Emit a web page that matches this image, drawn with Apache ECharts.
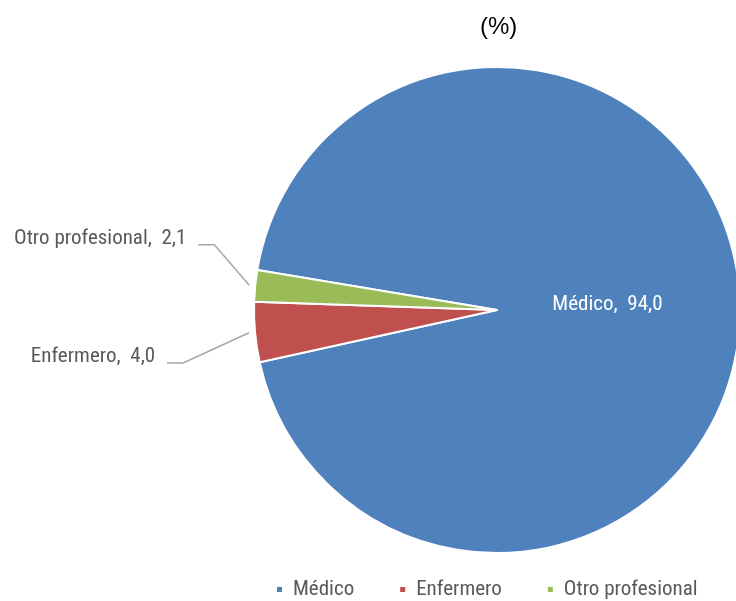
<!DOCTYPE html>
<html><head><meta charset="utf-8">
<script src="https://cdn.jsdelivr.net/npm/echarts@6/dist/echarts.min.js"></script>
<style>html,body{margin:0;padding:0;background:#fff}#c{width:736px;height:601px}</style>
</head><body><div id="c"></div>
<script>
const categories = ['Médico', 'Enfermero', 'Otro profesional'];
const values = [94.0, 4.0, 2.1];
const colors = ['#4F81BD', '#C0504D', '#9BBB59'];
const titleText = '(%)';

const FONT = '"Liberation Sans Narrow", "Roboto Condensed", "DejaVu Sans Condensed", sans-serif';
const fmt = v => v.toFixed(1).replace('.', ',');

const chart = echarts.init(document.getElementById('c'), null, {renderer: 'canvas'});
const labelOffsets = [[-14, -2], [-49, 22], [-18, -44]];

chart.setOption({
  animation: false,
  backgroundColor: '#fff',
  title: {
    text: titleText, left: 475, top: 10,
    textStyle: {fontFamily: '"Liberation Sans", Arial, sans-serif', fontSize: 24, fontWeight: 'normal', color: '#000'}
  },
  legend: {
    data: categories, top: 574, left: 270, icon: 'rect', itemWidth: 7, itemHeight: 7, itemGap: 44,
    textStyle: {fontFamily: FONT, fontSize: 21, color: '#595959', padding: [0, 0, 0, 5]}
  },
  series: [{
    type: 'pie',
    center: [497, 310],
    radius: 243,
    startAngle: 170.5,
    clockwise: true,
    avoidLabelOverlap: false,
    itemStyle: {borderColor: '#fff', borderWidth: 2},
    labelLine: {length: 30, length2: 16, lineStyle: {color: '#A6A6A6', width: 1.5}},
    label: {fontFamily: FONT, fontSize: 21, color: '#595959', formatter: p => p.name + ',  ' + fmt(p.value), alignTo: 'none'},
    labelLayout: function (p) {
      const o = labelOffsets[p.dataIndex];
      const out = {dx: o[0], dy: o[1]};
      if (p.dataIndex > 0 && p.labelLinePoints) {
        const r = p.labelRect;
        const right = r.x + r.width + o[0] + 12;
        const midY = r.y + r.height / 2 + o[1] + 6;
        const a = p.labelLinePoints[0], b = p.labelLinePoints[1];
        const len = Math.hypot(b[0] - a[0], b[1] - a[1]) || 1;
        const ax = a[0] + 6 * (b[0] - a[0]) / len, ay = a[1] + 6 * (b[1] - a[1]) / len;
        out.labelLinePoints = [[ax, ay], [right + 16, midY], [right, midY]];
      }
      return out;
    },
    data: categories.map((c, i) => ({
      name: c, value: values[i],
      itemStyle: {color: colors[i]},
      label: i === 0 ? {position: 'inside', color: '#fff'} : {position: 'outside'}
    }))
  }]
});
</script></body></html>
